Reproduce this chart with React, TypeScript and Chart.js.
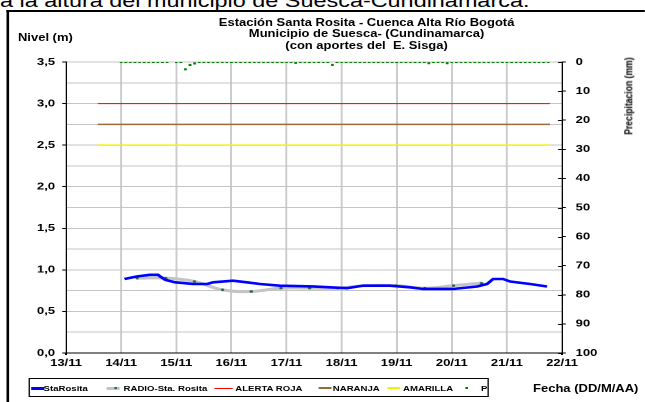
import React, { useEffect, useRef } from "react";
import { Chart, registerables } from "chart.js";

Chart.register(...registerables);

// ---------- data ----------
const xTickLabels = ["13/11", "14/11", "15/11", "16/11", "17/11", "18/11", "19/11", "20/11", "21/11", "22/11"];
const dayMin = 13;
const dayMax = 22;
const levelMax = 3.5;
const precipMax = 100;

const staRositaDays = [14.06, 14.28, 14.52, 14.67, 14.71, 14.8, 14.98, 15.16, 15.3, 15.56, 15.67, 16.03, 16.28, 16.52, 16.88, 17.48, 18.1, 18.39, 18.88, 19.24, 19.48, 20.02, 20.46, 20.64, 20.75, 20.93, 21.06, 21.42, 21.73];
const staRositaLevels = [0.89, 0.92, 0.94, 0.94, 0.92, 0.88, 0.85, 0.84, 0.83, 0.83, 0.85, 0.87, 0.85, 0.83, 0.81, 0.8, 0.78, 0.81, 0.81, 0.79, 0.77, 0.77, 0.8, 0.83, 0.89, 0.89, 0.86, 0.83, 0.8];

const radioDays = [14.29, 14.81, 15.33, 15.84, 16.36, 16.9, 17.42, 17.93, 18.44, 18.99, 19.51, 20.03, 20.54];
const radioLevels = [0.9, 0.9, 0.86, 0.76, 0.74, 0.78, 0.78, 0.78, 0.81, 0.81, 0.78, 0.81, 0.84];

const alertStartDay = 13.58;
const alertEndDay = 21.78;
const alertaRoja = 3.0;
const alertaNaranja = 2.75;
const alertaAmarilla = 2.5;

const pStartDay = 14.0;
const pStepHours = 2;
const pValues: (number | null)[] = [
  0, 0, 0, 0, 0, 0, 0, 0, 0, 0, 0, null,
  0, 0, 2.5, 1.0, 0.5, 0, 0, 0, 0, 0, 0, 0,
  0, 0, 0, 0, 0, 0, 0, 0, 0, 0, 0, 0,
  0, 0, 0.3, 0, 0, 0, 0, 0, 0, 0, 1.0, 0,
  0, 0, 0, 0, 0, 0, 0, 0, 0, 0, 0, 0,
  0, 0, 0, 0, 0, 0, 0, 0.4, 0, 0, 0, 0.4,
  0, 0, 0, 0, 0, 0, 0, 0, 0, 0, 0, 0,
  0, 0, 0, 0, 0, 0, 0, 0, 0, 0,
];

// ---------- layout ----------
const STRETCH = 1.3;
const W = 496;
const H = 402;
const FONT = "'Liberation Sans', Arial, Helvetica, sans-serif";

const isHalf = (v: number) => Math.abs(v * 2 - Math.round(v * 2)) < 1e-6;
const CLEAR = "rgba(0,0,0,0)";

const crossTicks = {
  id: "crossTicks",
  afterDraw(chart: any) {
    const s = chart.scales.y2;
    const ctx = chart.ctx;
    ctx.save();
    ctx.strokeStyle = "#000";
    ctx.lineWidth = 1;
    s.ticks.forEach((t: any) => {
      const y = Math.round(s.getPixelForValue(t.value)) + 0.5;
      ctx.beginPath();
      ctx.moveTo(s.left - 3, y);
      ctx.lineTo(s.left, y);
      ctx.stroke();
    });
    ctx.restore();
  },
};

export default function App() {
  const ref = useRef<HTMLCanvasElement>(null);

  useEffect(() => {
    document.body.style.overflow = "hidden";
    const tickFont = { family: FONT, size: 10, weight: "bold" as const };
    const hLine = (level: number) => [
      { x: alertStartDay, y: level },
      { x: alertEndDay, y: level },
    ];
    const chart = new Chart(ref.current as HTMLCanvasElement, {
      type: "line",
      data: {
        datasets: [
          {
            label: "StaRosita",
            data: staRositaDays.map((d, i) => ({ x: d, y: staRositaLevels[i] })),
            borderColor: "#0000ff",
            borderWidth: 2.6,
            pointRadius: 0,
            tension: 0,
            yAxisID: "y",
            order: 0,
          },
          {
            label: "RADIO-Sta. Rosita",
            data: radioDays.map((d, i) => ({ x: d, y: radioLevels[i] })),
            borderColor: "#c4c4c4",
            borderWidth: 3,
            tension: 0.4,
            pointRadius: 1.3,
            pointBorderWidth: 0,
            pointBackgroundColor: "#2d6a4f",
            yAxisID: "y",
            order: 1,
          },
          {
            label: "ALERTA ROJA",
            data: hLine(alertaRoja),
            borderColor: "#ff0000",
            borderWidth: 1,
            pointRadius: 0,
            yAxisID: "y",
            order: 2,
          },
          {
            label: "NARANJA",
            data: hLine(alertaNaranja),
            borderColor: "#9c6b3c",
            borderWidth: 1.5,
            pointRadius: 0,
            yAxisID: "y",
            order: 2,
          },
          {
            label: "AMARILLA",
            data: hLine(alertaAmarilla),
            borderColor: "#f2f200",
            borderWidth: 1.5,
            pointRadius: 0,
            yAxisID: "y",
            order: 2,
          },
          {
            label: "P",
            data: pValues.map((v, i) => ({ x: pStartDay + (i * pStepHours) / 24, y: v })),
            showLine: false,
            pointStyle: "rect",
            pointRadius: 1.5,
            pointBorderWidth: 0,
            pointBackgroundColor: "#008000",
            borderColor: "#008000",
            yAxisID: "y2",
            order: 0,
          },
        ] as any,
      },
      options: {
        animation: false,
        responsive: false,
        devicePixelRatio: 2,
        events: [],
        layout: { padding: { top: 62, left: 0, right: 0, bottom: 0 } },
        plugins: {
          legend: { display: false },
          title: { display: false },
          tooltip: { enabled: false },
        },
        scales: {
          x: {
            type: "linear",
            position: "bottom",
            min: dayMin,
            max: dayMax,
            afterFit: (s: any) => {
              s.height = 49;
            },
            ticks: {
              stepSize: 1,
              autoSkip: false,
              maxRotation: 0,
              color: "#000",
              font: tickFont,
              padding: 2,
              callback: (v: any) => xTickLabels[Math.round(Number(v) - dayMin)] ?? "",
            },
            grid: {
              color: (c: any) =>
                c.tick && (c.tick.value === dayMin || c.tick.value === dayMax) ? CLEAR : "#cccccc",
              lineWidth: 1.5,
              tickLength: 2,
              tickColor: (c: any) =>
                c.tick && (c.tick.value === dayMin || c.tick.value === dayMax) ? "#000" : CLEAR,
            },
            border: { color: "#000", width: 1 },
          },
          y: {
            type: "linear",
            position: "left",
            min: 0,
            max: levelMax,
            afterFit: (s: any) => {
              s.width = 50.8;
            },
            ticks: {
              stepSize: 0.25,
              autoSkip: false,
              color: "#000",
              font: tickFont,
              padding: 5.5,
              callback: (v: any) => (isHalf(Number(v)) ? Number(v).toFixed(1).replace(".", ",") : ""),
            },
            grid: {
              color: (c: any) => (c.tick && c.tick.value === 0 ? CLEAR : "#c4c4c4"),
              lineWidth: 1,
              tickLength: 3,
              tickColor: (c: any) => (c.tick && isHalf(c.tick.value) ? "#000" : CLEAR),
            },
            border: { color: "#000", width: 1 },
          },
          y2: {
            type: "linear",
            position: "right",
            min: 0,
            max: precipMax,
            reverse: true,
            afterFit: (s: any) => {
              s.width = 63.7;
            },
            ticks: {
              stepSize: 10,
              color: "#000",
              font: tickFont,
              padding: 7.5,
            },
            grid: { drawOnChartArea: false, tickLength: 3, color: "#000" },
            border: { color: "#000", width: 1 },
          },
        },
      } as any,
      plugins: [crossTicks],
    });
    return () => chart.destroy();
  }, []);

  const abs = (o: React.CSSProperties): React.CSSProperties => ({
    position: "absolute",
    whiteSpace: "nowrap",
    ...o,
  });
  const legendText = (left: number, text: string) => (
    <div style={abs({ left, top: 384.5, fontSize: 7.4, lineHeight: "7.4px", fontWeight: "bold" })}>{text}</div>
  );
  const legendLine = (left: number, width: number, color: string, thick: number) => (
    <div style={abs({ left, top: 388 - thick / 2, width, height: thick, background: color })} />
  );

  return (
    <div
      style={{
        position: "absolute",
        left: 0,
        top: 0,
        width: W,
        height: H,
        transform: `scaleX(${STRETCH})`,
        transformOrigin: "0 0",
        overflow: "hidden",
        fontFamily: FONT,
        color: "#000",
        background: "#fff",
      }}
    >
      <div style={abs({ left: 0, top: -8.5, fontSize: 18, lineHeight: "18px" })}>
        a la altura del municipio de Suesca-Cundinamarca.
      </div>
      <div
        style={abs({
          left: 4.6,
          top: 10,
          width: 700,
          height: 600,
          borderTop: "2.7px solid #000",
          borderLeft: "2.5px solid #000",
        })}
      />
      <canvas
        ref={ref}
        width={W}
        height={H}
        style={{ position: "absolute", left: 0, top: 0, width: W + "px", height: H + "px" }}
      />
      <div
        style={abs({
          left: 282,
          top: 16.5,
          transform: "translateX(-50%)",
          textAlign: "center",
          fontSize: 10,
          lineHeight: "11.5px",
          fontWeight: "bold",
          whiteSpace: "pre",
        })}
      >
        {"Estación Santa Rosita - Cuenca Alta Río Bogotá\nMunicipio de Suesca- (Cundinamarca)\n(con aportes del  E. Sisga)"}
      </div>
      <div style={abs({ left: 13.8, top: 33, fontSize: 10, lineHeight: "10px", fontWeight: "bold" })}>Nivel (m)</div>
      <div
        style={abs({
          left: 483.5,
          top: 96,
          fontSize: 8.6,
          lineHeight: "8.6px",
          fontWeight: "bold",
          transform: "translate(-50%, -50%) rotate(-90deg)",
        })}
      >
        Precipitacion (mm)
      </div>
      <div style={abs({ left: 410, top: 383.5, fontSize: 10, lineHeight: "10px", fontWeight: "bold" })}>
        Fecha (DD/M/AA)
      </div>
      <div style={abs({ left: 21.5, top: 378, width: 354.7, height: 19, border: "1px solid #000", boxSizing: "border-box" })} />
      {legendLine(24, 9.5, "#0000ff", 3)}
      {legendText(33.5, "StaRosita")}
      {legendLine(82, 10, "#c4c4c4", 3)}
      <div style={abs({ left: 88, top: 387, width: 1.6, height: 2, background: "#2d6a4f" })} />
      {legendText(95, "RADIO-Sta. Rosita")}
      {legendLine(165, 14, "#ff0000", 1)}
      {legendText(181, "ALERTA ROJA")}
      {legendLine(245, 10, "#9c6b3c", 1.5)}
      {legendText(256, "NARANJA")}
      {legendLine(298, 10, "#f2f200", 1.5)}
      {legendText(310, "AMARILLA")}
      <div style={abs({ left: 358.2, top: 387, width: 1.8, height: 2, background: "#008000" })} />
      {legendText(370, "P")}
    </div>
  );
}
